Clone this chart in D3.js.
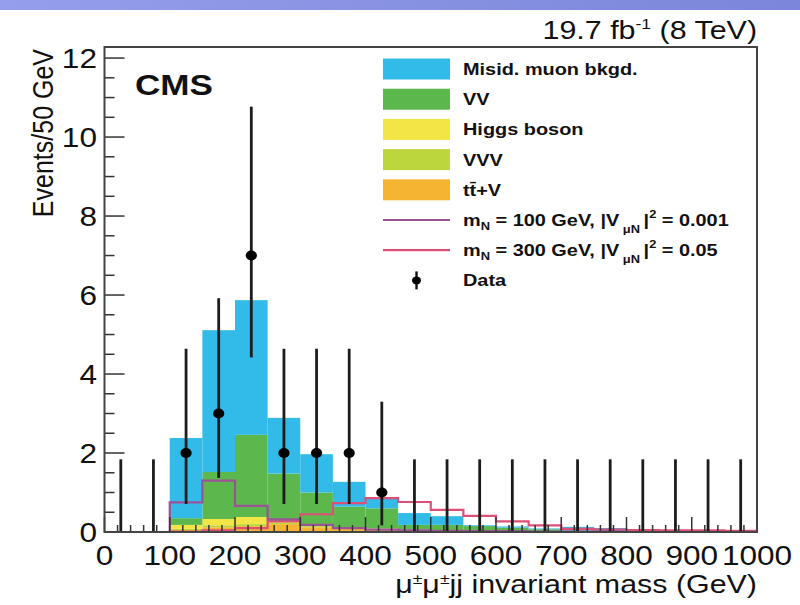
<!DOCTYPE html>
<html>
<head>
<meta charset="utf-8">
<script src="https://cdn.jsdelivr.net/npm/d3@7"></script>
<style>
  body { margin: 0; background: #fff; }
  svg { display: block; }
  text { font-family: "Liberation Sans", Arial, Helvetica, sans-serif; fill: #111; }
</style>
</head>
<body>
<svg id="chart" width="800" height="605"></svg>
<script>
// ---- data: 50 GeV bins of the mu±mu±jj invariant mass ----
const binLow = [0, 50, 100, 150, 200, 250, 300, 350, 400, 450, 500, 550, 600, 650, 700, 750, 800, 850, 900, 950];
const binWidth = 50;

// stacked backgrounds (bottom to top)
const ttV   = [0, 0, 0.05, 0.12, 0.15, 0.20, 0.12, 0.08, 0.06, 0.04, 0.03, 0.02, 0.02, 0.02, 0.01, 0.01, 0.01, 0.01, 0.01, 0.01];
const vvv   = [0, 0, 0.03, 0.05, 0.05, 0.03, 0.03, 0.02, 0.02, 0.01, 0.01, 0.01, 0, 0, 0, 0, 0, 0, 0, 0];
const higgs = [0, 0, 0.10, 0.16, 0.18, 0.05, 0.03, 0.02, 0.01, 0.01, 0.01, 0, 0, 0, 0, 0, 0, 0, 0, 0];
const vv    = [0, 0, 0.17, 1.19, 2.08, 1.20, 0.82, 0.52, 0.51, 0.12, 0.13, 0.12, 0.09, 0.05, 0.02, 0.01, 0.01, 0.01, 0.01, 0.01];
const misid = [0, 0, 2.03, 3.59, 3.41, 1.41, 0.97, 0.63, 0.26, 0.30, 0.22, 0.02, 0.03, 0.02, 0.10, 0.08, 0, 0, 0, 0];

// heavy neutrino signal hypotheses
const sigM100 = [0, 0, 0.75, 1.30, 0.66, 0.32, 0.18, 0.10, 0.06, 0.04, 0.03, 0.02, 0.02, 0.01, 0.01, 0.01, 0, 0, 0, 0];
const sigM300 = [0, 0, 0.01, 0.04, 0.10, 0.27, 0.45, 0.73, 0.86, 0.76, 0.56, 0.41, 0.27, 0.17, 0.08, 0.06, 0.05, 0.04, 0.04, 0.03];

// observed events with Poisson (Garwood) interval edges
const dataCounts = [0, 0, 2, 3, 7, 2, 2, 2, 1, 0, 0, 0, 0, 0, 0, 0, 0, 0, 0, 0];
const dataLow    = [0, 0, 0.71, 1.37, 4.42, 0.71, 0.71, 0.71, 0.17, 0, 0, 0, 0, 0, 0, 0, 0, 0, 0, 0];
const dataHigh   = [1.84, 1.84, 4.64, 5.92, 10.77, 4.64, 4.64, 4.64, 3.30, 1.84, 1.84, 1.84, 1.84, 1.84, 1.84, 1.84, 1.84, 1.84, 1.84, 1.84];

// axis tick labels
const xTickLabels = ["0", "100", "200", "300", "400", "500", "600", "700", "800", "900", "1000"];
const yTickLabels = ["0", "2", "4", "6", "8", "10", "12"];

const bkgNames = ["ttV", "VVV", "Higgs", "VV", "Misid"];
const bkgColors = { ttV: "#f5b531", VVV: "#bcd63e", Higgs: "#f3e545", VV: "#5cb84c", Misid: "#32bbe8" };
const colM100 = "#9c5296";
const colM300 = "#de4f78";

// ---- layout ----
const svg = d3.select("#chart");
const SX = 1.17; // horizontal text stretch
const x = d3.scaleLinear().domain([0, 1000]).range([104.5, 757]);
const y = d3.scaleLinear().domain([0, 12.28]).range([532, 47]);

// header band
const defs = svg.append("defs");
const grad = defs.append("linearGradient").attr("id", "band").attr("x1", 0).attr("x2", 1);
grad.append("stop").attr("offset", 0).attr("stop-color", "#949eea");
grad.append("stop").attr("offset", 1).attr("stop-color", "#7c86da");
svg.append("rect").attr("x", 0).attr("y", 0).attr("width", 800).attr("height", 10).attr("fill", "url(#band)");

function label(parent, px, py, anchor, size, weight) {
  return parent.append("text")
    .attr("transform", `translate(${px},${py}) scale(${SX},1)`)
    .attr("text-anchor", anchor)
    .attr("font-size", size)
    .attr("font-weight", weight || "normal");
}

// ---- stacked histogram ----
const rows = binLow.map((lo, i) => ({
  lo, ttV: ttV[i], VVV: vvv[i], Higgs: higgs[i], VV: vv[i], Misid: misid[i]
}));
const stacked = d3.stack().keys(bkgNames)(rows);
const plot = svg.append("g");
stacked.forEach(layer => {
  plot.append("g").selectAll("rect").data(layer).join("rect")
    .attr("x", d => x(d.data.lo))
    .attr("width", d => x(d.data.lo + binWidth) - x(d.data.lo))
    .attr("y", d => y(d[1]))
    .attr("height", d => Math.max(0, y(d[0]) - y(d[1])))
    .attr("fill", bkgColors[layer.key]);
});

// ---- signal step outlines ----
function stepPoints(vals) {
  const pts = [[binLow[0], 0]];
  vals.forEach((v, i) => { pts.push([binLow[i], v]); pts.push([binLow[i] + binWidth, v]); });
  pts.push([binLow[binLow.length - 1] + binWidth, 0]);
  return pts;
}
const stepLine = d3.line().x(d => x(d[0])).y(d => y(d[1]));
plot.append("path").attr("d", stepLine(stepPoints(sigM300)))
  .attr("fill", "none").attr("stroke", colM300).attr("stroke-width", 2.2);
plot.append("path").attr("d", stepLine(stepPoints(sigM100)))
  .attr("fill", "none").attr("stroke", colM100).attr("stroke-width", 2.2);

// ---- data points ----
const pts = binLow.map((lo, i) => ({ c: lo + binWidth / 2, n: dataCounts[i], lo: dataLow[i], hi: dataHigh[i] }));
plot.append("g").selectAll("line").data(pts).join("line")
  .attr("x1", d => x(d.c)).attr("x2", d => x(d.c))
  .attr("y1", d => y(d.lo)).attr("y2", d => y(d.hi))
  .attr("stroke", "#1c1c1c").attr("stroke-width", 2.8);
plot.append("g").selectAll("ellipse").data(pts.filter(d => d.n > 0)).join("ellipse")
  .attr("cx", d => x(d.c)).attr("cy", d => y(d.n))
  .attr("rx", 5.6).attr("ry", 5).attr("fill", "#000");

// ---- axes ----
const axes = svg.append("g").attr("stroke", "#333").attr("stroke-width", 1.5);
d3.range(0, 12.01, 0.5).forEach(v => {
  const major = Math.abs(v / 2 - Math.round(v / 2)) < 1e-6;
  axes.append("line").attr("x1", x(0)).attr("x2", x(0) + (major ? 20 : 10))
    .attr("y1", y(v)).attr("y2", y(v));
});
d3.range(0, 1000.1, 20).forEach(v => {
  const major = v % 100 === 0;
  axes.append("line").attr("x1", x(v)).attr("x2", x(v))
    .attr("y1", y(0)).attr("y2", y(0) - (major ? 15 : 7));
});
svg.append("rect").attr("x", x(0)).attr("y", y(12.28))
  .attr("width", x(1000) - x(0)).attr("height", y(0) - y(12.28))
  .attr("fill", "none").attr("stroke", "#444").attr("stroke-width", 2);

yTickLabels.forEach(t => {
  label(svg, 97, y(+t) + 9.5, "end", 27).text(t);
});
xTickLabels.forEach(t => {
  label(svg, x(+t), 565, "middle", 27).text(t);
});

// axis titles
const xt = label(svg, 757, 593, "end", 26);
xt.append("tspan").text("\u03bc");
xt.append("tspan").attr("font-size", 15).attr("dy", -9).text("\u00b1");
xt.append("tspan").attr("dy", 9).text("\u03bc");
xt.append("tspan").attr("font-size", 15).attr("dy", -9).text("\u00b1");
xt.append("tspan").attr("dy", 9).text("jj invariant mass (GeV)");

svg.append("text")
  .attr("transform", `translate(53,49) rotate(-90) scale(1,1.2)`)
  .attr("text-anchor", "end").attr("font-size", 25)
  .text("Events/50 GeV");

// header texts
label(svg, 135, 95, "start", 30, "bold").text("CMS");
const lumi = label(svg, 757, 39, "end", 26);
lumi.append("tspan").text("19.7 fb");
lumi.append("tspan").attr("font-size", 15).attr("dy", -10).text("-1");
lumi.append("tspan").attr("dy", 10).text(" (8 TeV)");

// ---- legend ----
const leg = svg.append("g");
const legX = 383, legW = 67, textX = 463, row0 = 69, rowH = 30.2;
const fillEntries = [
  { key: "Misid", text: "Misid. muon bkgd." },
  { key: "VV", text: "VV" },
  { key: "Higgs", text: "Higgs boson" },
  { key: "VVV", text: "VVV" },
  { key: "ttV", text: "tt\u0304+V" }
];
fillEntries.forEach((e, i) => {
  const cy = row0 + i * rowH;
  leg.append("rect").attr("x", legX).attr("y", cy - 10.5).attr("width", legW).attr("height", 21)
    .attr("fill", bkgColors[e.key]);
  label(leg, textX, cy + 6, "start", 17, "bold").text(e.text);
});
[[colM100, "100", "0.001"], [colM300, "300", "0.05"]].forEach((s, j) => {
  const cy = row0 + (5 + j) * rowH;
  leg.append("line").attr("x1", legX).attr("x2", legX + legW).attr("y1", cy).attr("y2", cy)
    .attr("stroke", s[0]).attr("stroke-width", 2.2);
  const t = label(leg, textX, cy + 6, "start", 17, "bold");
  t.append("tspan").text("m");
  t.append("tspan").attr("font-size", 11).attr("dy", 4).text("N");
  t.append("tspan").attr("dy", -4).text(` = ${s[1]} GeV, |V`);
  t.append("tspan").attr("font-size", 11).attr("dy", 7).text(" \u03bcN ");
  t.append("tspan").attr("dy", -7).text("|");
  t.append("tspan").attr("font-size", 11).attr("dy", -8).text("2");
  t.append("tspan").attr("dy", 8).text(` = ${s[2]}`);
});
{
  const cy = row0 + 7 * rowH;
  const cx = legX + legW / 2;
  leg.append("line").attr("x1", cx).attr("x2", cx).attr("y1", cy - 9).attr("y2", cy + 9)
    .attr("stroke", "#111").attr("stroke-width", 2.4);
  leg.append("ellipse").attr("cx", cx).attr("cy", cy).attr("rx", 4.5).attr("ry", 4).attr("fill", "#000");
  label(leg, textX, cy + 6, "start", 17, "bold").text("Data");
}
</script>
</body>
</html>
